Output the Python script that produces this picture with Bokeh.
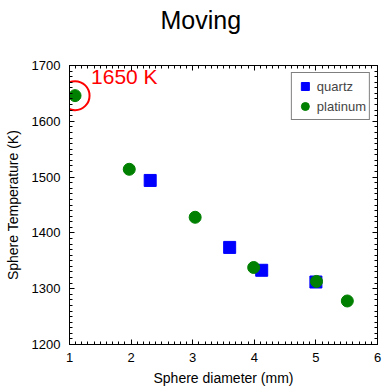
from bokeh.plotting import figure
from bokeh.models import LinearAxis, Range1d, Legend, LegendItem, Title, CustomJSTickFormatter, BasicTicker
from bokeh.core.properties import value
from bokeh.embed import file_html
from bokeh.resources import INLINE

quartz_x = [2.31, 3.60, 4.12, 5.00]
quartz_y = [1494, 1374, 1333, 1312]
platinum_x = [1.09, 1.97, 3.04, 3.99, 5.01, 5.51]
platinum_y = [1646, 1514, 1428, 1338, 1313, 1278]
annot_text = "1650 K"
title_text = "Moving"
x_label = "Sphere diameter (mm)"
y_label = "Sphere Temperature (K)"

FONT = "Liberation Sans"

p = figure(width=382, height=388, output_backend="svg", toolbar_location=None,
           x_range=Range1d(1, 6), y_range=Range1d(1200, 1700),
           x_axis_location=None, y_axis_location=None,
           min_border_left=69, min_border_right=5, min_border_top=65, min_border_bottom=44)
# a blank second line keeps the title near the top of its band
p.title = Title(text=title_text + "\n ", align="left", vertical_align="top", text_font=FONT,
                text_font_size="25px", text_font_style="normal", text_color="black",
                standoff=3, offset=91)
p.grid.visible = False
p.outline_line_color = "black"
p.outline_line_width = 1

xb = LinearAxis(axis_label=x_label, ticker=BasicTicker(num_minor_ticks=10))
yl = LinearAxis(axis_label=y_label, ticker=BasicTicker(num_minor_ticks=10))
blank = "return ''"
xt = LinearAxis(ticker=BasicTicker(num_minor_ticks=10), formatter=CustomJSTickFormatter(code=blank))
yr = LinearAxis(ticker=BasicTicker(num_minor_ticks=10), formatter=CustomJSTickFormatter(code=blank))
p.add_layout(xb, "below")
p.add_layout(yl, "left")
p.add_layout(xt, "above")
p.add_layout(yr, "right")

for ax in [xb, yl, xt, yr]:
    ax.major_tick_in = 5
    ax.major_tick_out = 0
    ax.minor_tick_in = 3
    ax.minor_tick_out = 0
    ax.axis_line_color = "black"
    ax.major_tick_line_color = "black"
    ax.minor_tick_line_color = "black"
    ax.major_label_text_font = FONT
    ax.major_label_text_font_size = "13px"
    ax.major_label_text_color = "black"
    ax.axis_label_text_font = FONT
    ax.axis_label_text_font_size = "14px"
    ax.axis_label_text_font_style = "normal"
    ax.axis_label_text_color = "black"

for ax in [xt, yr]:
    ax.major_label_standoff = 0
    ax.axis_label_standoff = 0
    ax.major_label_text_font_size = "1px"

xb.major_label_standoff = 8
yl.major_label_standoff = 9
xb.axis_label_standoff = 5
yl.axis_label_standoff = 8

rq = p.scatter(quartz_x, quartz_y, marker="square", size=12, fill_color="blue", line_color="blue")
rp = p.scatter(platinum_x, platinum_y, marker="circle", size=12, fill_color="green", line_color="green")

# annotation around the first platinum point
p.scatter([platinum_x[0]], [platinum_y[0]], marker="circle", size=29, fill_color=None,
          line_color="red", line_width=2)
p.text([platinum_x[0]], [platinum_y[0]], text=[annot_text], x_offset=16, y_offset=-8,
       text_font=value(FONT), text_font_size="21px", text_color="red",
       text_baseline="bottom", text_align="left")

legend = Legend(items=[LegendItem(label="quartz", renderers=[rq]),
                       LegendItem(label="platinum", renderers=[rp])],
                location="top_right")
legend.margin = 7
legend.padding = 3
legend.spacing = 0
legend.label_text_font = FONT
legend.label_text_font_size = "13px"
legend.label_standoff = 2
legend.glyph_width = 20
legend.glyph_height = 20
legend.label_height = 20
legend.border_line_color = "black"
legend.border_line_width = 1
legend.background_fill_alpha = 1
p.add_layout(legend)

open("out.html", "w").write(file_html(p, INLINE))
